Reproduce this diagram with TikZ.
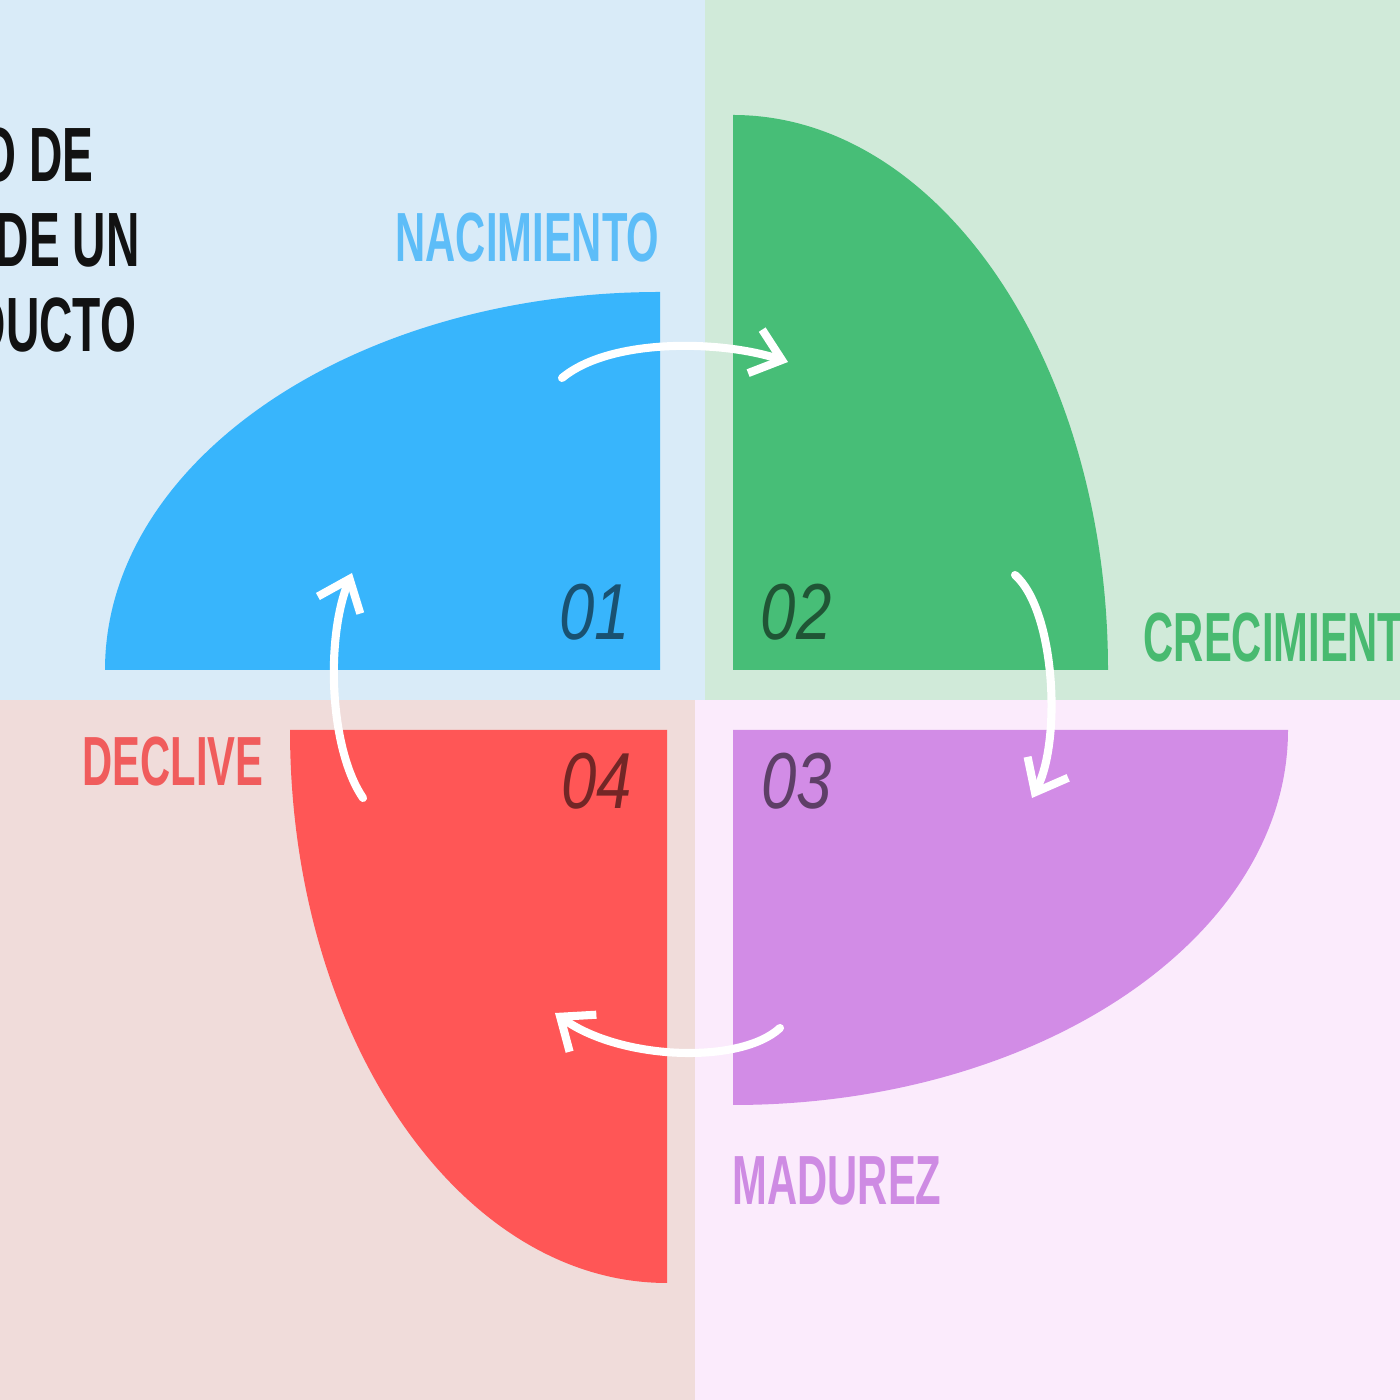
\documentclass[tikz,border=0pt]{standalone}
\usepackage{fontspec}
\setmainfont{Liberation Sans}
\usetikzlibrary{arrows.meta}

\definecolor{bgblue}{HTML}{D9EBF8}
\definecolor{bggreen}{HTML}{D0EAD9}
\definecolor{bgred}{HTML}{F0DCDA}
\definecolor{bgpurple}{HTML}{FBEBFC}
\definecolor{secblue}{HTML}{38B5FC}
\definecolor{secgreen}{HTML}{47BE77}
\definecolor{secpurple}{HTML}{D28CE6}
\definecolor{secred}{HTML}{FF5656}
\definecolor{txtblue}{HTML}{5DBDF8}
\definecolor{txtgreen}{HTML}{48BA70}
\definecolor{txtpurple}{HTML}{CE8BE3}
\definecolor{txtred}{HTML}{F05C5C}

\newcommand{\cnd}[1]{\scalebox{0.6}[1]{#1}}

\begin{document}
\begin{tikzpicture}[
		lbl/.style={inner sep=0pt, font=\bfseries\fontsize{19.8}{24}\selectfont},
		num/.style={inner sep=0pt, text=black, text opacity=0.55, font=\itshape\fontsize{22.6}{26}\selectfont},
		cyc/.style={draw=white, line width=2.3pt, line cap=round, -{Straight Barb[length=8pt,width=13pt]}}
	]
		\useasboundingbox (0,0) rectangle (14,14);
		\clip (0,0) rectangle (14,14);
		
		\fill[bgblue] (0,7) rectangle (7.05,14);
		\fill[bggreen] (7.05,7) rectangle (14,14);
		\fill[bgred] (0,0) rectangle (6.95,7);
		\fill[bgpurple] (6.95,0) rectangle (14,7);
		
		\fill[secblue] (6.60,7.30) -- (1.05,7.30) arc[start angle=180, end angle=90, x radius=5.55, y radius=3.78] -- cycle;
		\fill[secgreen] (7.33,7.30) -- (7.33,12.85) arc[start angle=90, end angle=0, x radius=3.75, y radius=5.55] -- cycle;
		\fill[secpurple] (7.33,6.70) -- (12.88,6.70) arc[start angle=0, end angle=-90, x radius=5.55, y radius=3.75] -- cycle;
		\fill[secred] (6.67,6.70) -- (6.67,1.17) arc[start angle=-90, end angle=-180, x radius=3.77, y radius=5.53] -- cycle;
		
		\node[lbl, anchor=west, align=left, text=black!93, font=\bfseries\fontsize{21.9}{24.2}\selectfont] (title) at (-1.28,11.60) {\cnd{CICLO DE}\\\cnd{VIDA DE UN}\\\cnd{PRODUCTO}};
		
		\node[lbl, anchor=east, text=txtblue] (nac) at (6.60,11.62) {\cnd{NACIMIENTO}};
		\node[lbl, anchor=west, text=txtgreen] (cre) at (11.43,7.62) {\cnd{CRECIMIENTO}};
		\node[lbl, anchor=west, text=txtpurple] (mad) at (7.32,2.19) {\cnd{MADUREZ}};
		\node[lbl, anchor=west, text=txtred] (dec) at (0.82,6.38) {\cnd{DECLIVE}};
		
		\node[num] (n1) at (5.95,7.88) {\scalebox{0.8}[1]{01}};
		\node[num] (n2) at (7.96,7.88) {\scalebox{0.8}[1]{02}};
		\node[num] (n3) at (7.97,6.19) {\scalebox{0.8}[1]{03}};
		\node[num] (n4) at (5.97,6.19) {\scalebox{0.8}[1]{04}};
		
		\coordinate (s1) at (5.62,10.22);
		\coordinate (e1) at (7.88,10.38);
		\coordinate (s2) at (10.15,8.25);
		\coordinate (e2) at (10.32,6.02);
		\coordinate (s3) at (7.80,3.72);
		\coordinate (e3) at (5.55,3.87);
		\coordinate (s4) at (3.63,6.02);
		\coordinate (e4) at (3.52,8.27);
		
		\draw[cyc] (s1) .. controls (6.1,10.62) and (7.2,10.6) .. (e1);
		\draw[cyc] (s2) .. controls (10.55,7.9) and (10.62,6.6) .. (e2);
		\draw[cyc] (s3) .. controls (7.4,3.35) and (6.2,3.4) .. (e3);
		\draw[cyc] (s4) .. controls (3.3,6.5) and (3.25,7.6) .. (e4);
\end{tikzpicture}
\end{document}
